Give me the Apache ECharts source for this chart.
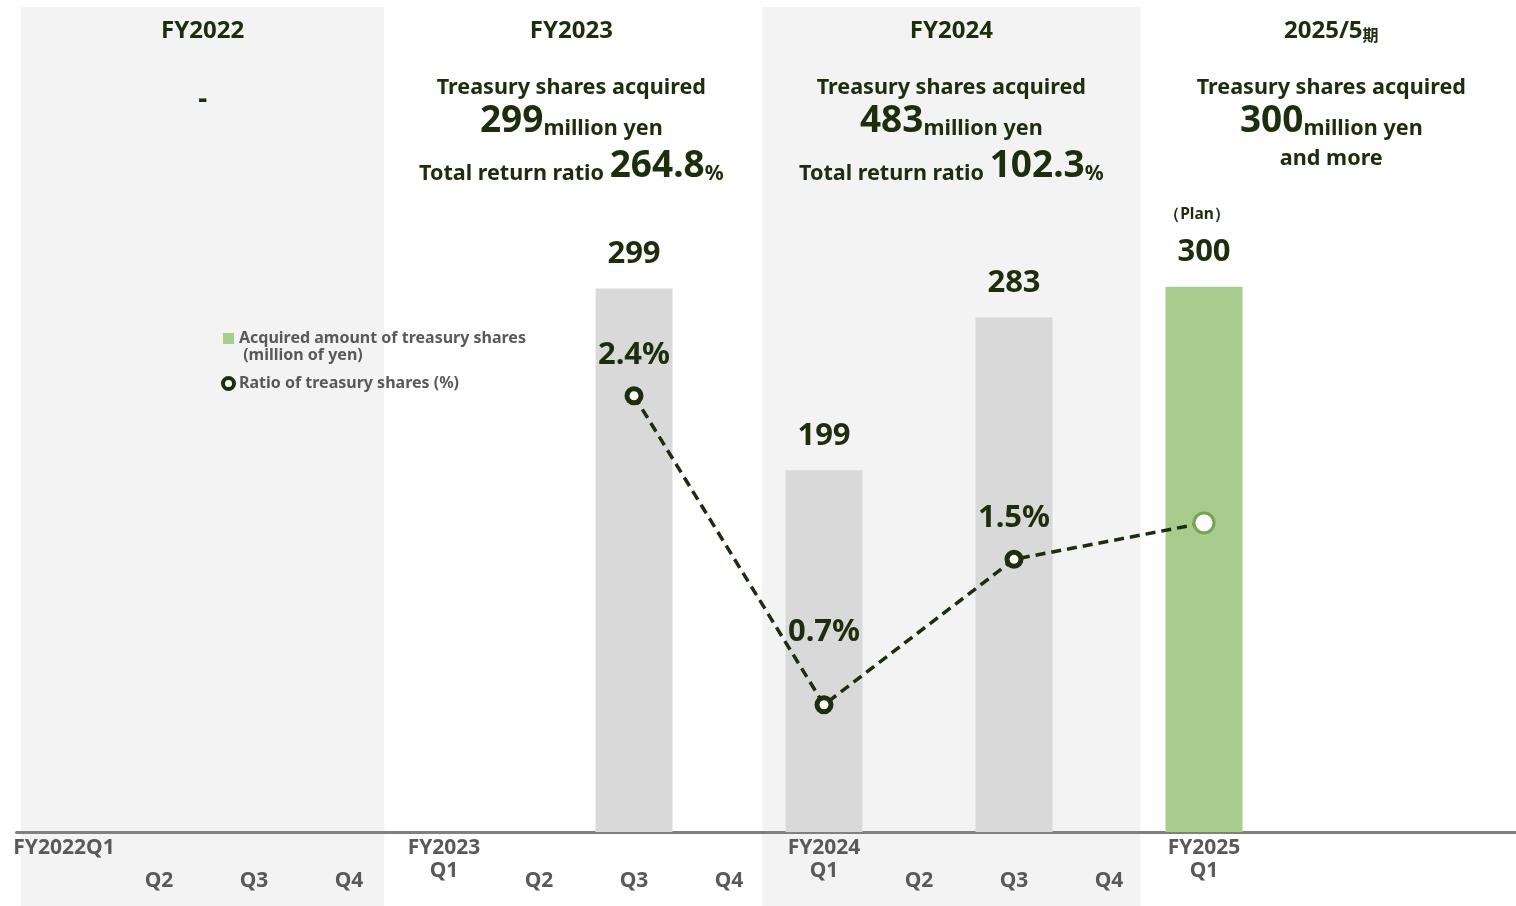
<!DOCTYPE html>
<html>
<head>
<meta charset="utf-8">
<script src="https://cdn.jsdelivr.net/npm/echarts@6/dist/echarts.min.js"></script>
<style>
html,body{margin:0;padding:0;background:#fff;}
#chart{width:1516px;height:906px;}
</style>
</head>
<body>
<div id="chart"></div>
<script>
// ---- data ----
const categories = ['FY2022Q1','FY2022Q2','FY2022Q3','FY2022Q4','FY2023Q1','FY2023Q2','FY2023Q3','FY2023Q4','FY2024Q1','FY2024Q2','FY2024Q3','FY2024Q4','FY2025Q1','FY2025Q2','FY2025Q3','FY2025Q4'];
const tickLabels = ['FY2022Q1','Q2','Q3','Q4','FY2023\nQ1','Q2','Q3','Q4','FY2024\nQ1','Q2','Q3','Q4','FY2025\nQ1','','',''];
const acquiredAmount = [null,null,null,null,null,null,299,null,199,null,283,null,300,null,null,null];
const treasuryRatio = [null,null,null,null,null,null,2.4,null,0.7,null,1.5,null,1.7,null,null,null];
const planIndex = 12;
const fiscalYears = ['FY2022','FY2023','FY2024','2025/5期'];
const yearAcquired = [null,299,483,300];
const yearReturnRatio = [null,264.8,102.3,null];
const seriesNames = ['Acquired amount of treasury shares\n(million of yen)','Ratio of treasury shares (%)'];

// ---- styles ----
const DARK = '#1c2e0c';
const GRAYTXT = '#595959';
const FONT = '"Noto Sans","Open Sans",sans-serif';
const BAR_GRAY = '#d9d9d9';
const BAR_GREEN = '#a8cb8e';
const PT_GREEN = '#72a550';

const chart = echarts.init(document.getElementById('chart'));

const barData = acquiredAmount.map((v,i)=>{
  if (v == null) return null;
  if (i === planIndex) {
    return {value:v, itemStyle:{color:BAR_GREEN}, label:{distance:16, formatter:'{p|（Plan）}\n{v|{c}}'}};
  }
  return v;
});
const lineData = treasuryRatio.map((v,i)=>{
  if (v == null) return null;
  if (i === planIndex) {
    return {value:v, symbolSize:20, itemStyle:{color:'#fff', borderColor:PT_GREEN, borderWidth:3}, label:{show:false}};
  }
  if (v < 1) return {value:v, label:{distance:48}};
  return v;
});

const option = {
  backgroundColor:'#fff',
  animation:false,
  textStyle:{fontFamily:FONT},
  grid:{left:16.5, width:1520, top:14, bottom:74, containLabel:false, outerBoundsMode:'none'},
  legend:{
    orient:'vertical', left:221, top:313.5, padding:0, itemGap:12,
    itemWidth:11, itemHeight:11,
    textStyle:{fontFamily:FONT, fontSize:16, fontWeight:'bold', color:GRAYTXT,
      rich:{e:{fontSize:16,lineHeight:17,fontWeight:'bold',color:GRAYTXT},
            a:{fontSize:16,lineHeight:17,fontWeight:'bold',color:GRAYTXT,fontFamily:FONT}}},
    formatter:function(name){
      if (name === seriesNames[0]) {
        const parts = name.split('\n');
        return '{e| }\n{a|'+parts[0]+'}\n{a| '+parts[1]+'}';
      }
      return '{a|'+name+'}';
    },
    data:[
      {name:seriesNames[0], icon:'rect', itemStyle:{color:BAR_GREEN}},
      {name:seriesNames[1], icon:'circle', itemStyle:{color:'#fff', borderColor:DARK, borderWidth:4}}
    ]
  },
  xAxis:{
    type:'category', data:categories,
    axisLine:{show:true, lineStyle:{color:'#808080', width:3}},
    axisTick:{show:false},
    axisLabel:{
      interval:0, margin:5,
      formatter:function(v,i){
        const t = tickLabels[i];
        if (!t) return '';
        if (i === 0 || t.indexOf('\n') >= 0) return t.split('\n').map(s=>'{s|'+s+'}').join('\n');
        return '{e| }\n{s|'+t+'}';
      },
      rich:{
        s:{fontFamily:FONT, fontSize:21, fontWeight:'bold', color:GRAYTXT, lineHeight:23},
        e:{fontSize:10, lineHeight:33}
      }
    }
  },
  yAxis:[
    {type:'value', min:0, max:450, show:false, splitLine:{show:false}},
    {type:'value', min:0, max:4.5, show:false, splitLine:{show:false}}
  ],
  series:[
    {
      name:seriesNames[0], type:'bar', data:barData, barWidth:77, yAxisIndex:0,
      itemStyle:{color:BAR_GRAY}, z:2,
      label:{show:true, position:'top', distance:19, fontFamily:FONT, fontSize:31, fontWeight:'bold', color:DARK,
        rich:{p:{fontFamily:FONT, fontSize:15.5, fontWeight:'bold', color:DARK, lineHeight:40, padding:[0,14,0,0]},
              v:{fontFamily:FONT, fontSize:31, fontWeight:'bold', color:DARK, lineHeight:36}}}
    },
    {
      name:seriesNames[1], type:'line', data:lineData, yAxisIndex:1, connectNulls:true,
      symbol:'circle', symbolSize:14, z:5,
      lineStyle:{color:DARK, width:3.5, type:[10,6]},
      itemStyle:{color:'#fff', borderColor:DARK, borderWidth:5},
      label:{show:true, position:'top', distance:16, formatter:'{c}%', fontFamily:FONT, fontSize:31, fontWeight:'bold', color:DARK}
    }
  ]
};
chart.setOption(option);

// ---- fiscal-year bands and headers, positioned from the category axis ----
const x0 = chart.convertToPixel({xAxisIndex:0}, 0);
const x1 = chart.convertToPixel({xAxisIndex:0}, 1);
const step = x1 - x0;
const gridLeft = 16.5;
const elements = [];
const richTop = {
  h:{fontFamily:FONT, fontSize:24, fontWeight:'bold', fill:DARK, verticalAlign:'bottom', lineHeight:30},
  k:{fontFamily:'"Noto Sans CJK JP",sans-serif', fontSize:16, fontWeight:'bold', fill:DARK, verticalAlign:'bottom', lineHeight:27},
  m:{fontFamily:FONT, fontSize:21.6, fontWeight:'bold', fill:DARK, verticalAlign:'bottom', lineHeight:30},
  b:{fontFamily:FONT, fontSize:37, fontWeight:'bold', fill:DARK, verticalAlign:'bottom', lineHeight:43},
  p:{fontFamily:FONT, fontSize:21, fontWeight:'bold', fill:DARK, verticalAlign:'bottom', lineHeight:30}
};
fiscalYears.forEach((fy,k)=>{
  const cq1 = chart.convertToPixel({xAxisIndex:0}, 4*k);
  let left = cq1 - 0.65*step;
  let right = left + 3.98*step;
  if (left < gridLeft + 4.5) { left = gridLeft + 4.5; right += 4; }
  const cx = (left + right)/2;
  if (k % 2 === 0) {
    elements.push({type:'rect', z:-10, shape:{x:left, y:7, width:right-left, height:906-7}, style:{fill:'#f3f3f3'}});
  }
  const head = fy.indexOf('期') >= 0 ? '{h|'+fy.replace('期','')+'}{k|期}' : '{h|'+fy+'}';
  elements.push({type:'text', z:10, x:cx, y:28, style:{text:head, align:'center', verticalAlign:'middle', rich:richTop}});
  if (yearAcquired[k] == null) {
    elements.push({type:'text', z:10, x:cx, y:100, style:{text:'-', align:'center', verticalAlign:'middle', fill:DARK, font:'bold 28px '+FONT}});
  } else {
    elements.push({type:'text', z:10, x:cx, y:84, style:{text:'{m|Treasury shares acquired}', align:'center', verticalAlign:'middle', rich:richTop}});
    elements.push({type:'text', z:10, x:cx, y:118, style:{text:'{b|'+yearAcquired[k]+'}{m|million yen}', align:'center', verticalAlign:'middle', rich:richTop}});
    if (yearReturnRatio[k] != null) {
      elements.push({type:'text', z:10, x:cx, y:163, style:{text:'{m|Total return ratio }{b|'+yearReturnRatio[k].toFixed(1)+'}{p|%}', align:'center', verticalAlign:'middle', rich:richTop}});
    } else {
      elements.push({type:'text', z:10, x:cx, y:155, style:{text:'{m|and more}', align:'center', verticalAlign:'middle', rich:richTop}});
    }
  }
});
chart.setOption({graphic:{elements:elements}});
</script>
</body>
</html>
